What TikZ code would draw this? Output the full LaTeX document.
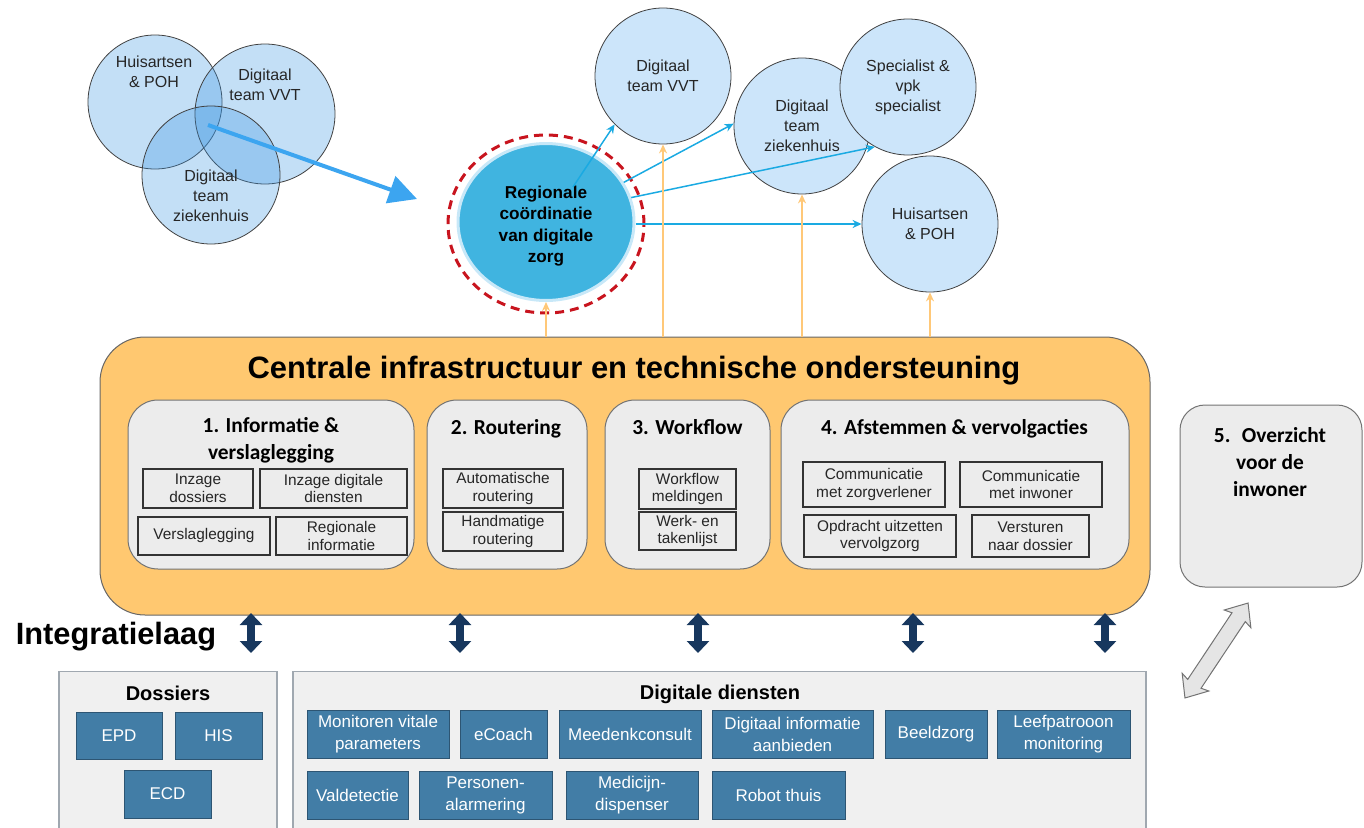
\documentclass[tikz,border=0pt]{standalone}
\usepackage{fontspec}
\setmainfont{Liberation Sans}
\newfontfamily\calibri{Carlito}
\usetikzlibrary{positioning,shapes,arrows.meta}
\newcommand{\fsz}[2]{\fontsize{#1}{#2}\selectfont}
\definecolor{venncol}{RGB}{57,148,225}
\definecolor{teamcol}{RGB}{204,229,250}
\definecolor{regblue}{RGB}{64,180,224}
\definecolor{halo}{RGB}{200,232,248}
\definecolor{regred}{RGB}{200,20,30}
\definecolor{cyanline}{RGB}{26,170,226}
\definecolor{bigblue}{RGB}{60,165,240}
\definecolor{orline}{RGB}{255,200,120}
\definecolor{orfill}{RGB}{255,200,112}
\definecolor{secfill}{RGB}{236,236,236}
\definecolor{basefill}{RGB}{240,240,240}
\definecolor{baseline}{RGB}{160,168,176}
\definecolor{svcfill}{RGB}{66,125,166}
\definecolor{svcline}{RGB}{45,85,115}
\definecolor{navy}{RGB}{23,55,94}

\begin{document}
\begin{tikzpicture}[x=1pt,y=-1pt,line width=1pt,
  venn/.style={circle,draw=black!75,line width=0.8pt,fill=venncol,fill opacity=0.3,minimum size=#1,inner sep=0pt},
  vtext/.style={align=center,text=black!85,font=\fsz{16}{20}},
  team/.style={circle,draw=black!75,line width=0.8pt,fill=teamcol,minimum size=136pt,inner sep=0pt,align=center,text=black!85,font=\fsz{16}{20}},
  cyanarr/.style={draw=cyanline,line width=1.5pt,-{Stealth[length=9pt,width=8pt]}},
  orarr/.style={draw=orline,line width=1.5pt,-{Stealth[length=9pt,width=8pt]}},
  sec/.style={draw=black!55,fill=secfill,rounded corners=30pt,minimum height=169pt,inner sep=0pt},
  sectitle/.style={align=center,font=\calibri\bfseries\fsz{21.4}{27}},
  item/.style={draw=black!80,line width=1.5pt,inner sep=0pt,align=center,text=black!85,font=\fsz{15.4}{17.7}},
  basebox/.style={draw=baseline,line width=1.2pt,fill=basefill,minimum height=169pt,inner sep=0pt},
  svc/.style={draw=svcline,fill=svcfill,line width=1pt,text=white,inner sep=0pt,align=center,minimum height=48pt,font=\fsz{17}{22}},
  navyarr/.style={draw=navy,line width=8pt,{Triangle[width=22pt,length=12pt]}-{Triangle[width=22pt,length=12pt]}}]

\useasboundingbox (0,0) rectangle (1364,827);

% de drie overlappende teams
\node[venn=134pt] (vhuis) at (155,102) {};
\node[venn=140pt] (vvvt) at (265,114) {};
\node[venn=138pt] (vzkh) at (211,175) {};
\node[vtext] (vhuistxt) at (154,72) {Huisartsen\\ \& POH};
\node[vtext] (vvvttxt) at (265,85) {Digitaal\\ team VVT};
\node[vtext] (vzkhtxt) at (211,196) {Digitaal\\ team\\ ziekenhuis};
\coordinate (vmid) at (208,125);
\coordinate (vend) at (417,199);
\draw[draw=bigblue,line width=4pt,-{Triangle[length=28pt,width=28pt]}] (vmid) -- (vend);

% teams rechts boven
\node[team] (tvvt) at (663,76) {Digitaal\\ team VVT};
\node[team] (tzkh) at (802,126) {Digitaal\\ team\\ ziekenhuis};
\node[team] (tspec) at (908,87) {Specialist \&\\ vpk\\ specialist};
\node[team] (thap) at (930,224) {Huisartsen\\ \& POH};

% regionale coordinatie
\node[ellipse,draw=regred,line width=3pt,dash pattern=on 9pt off 6pt,minimum width=196pt,minimum height=178pt] (regring) at (546,224) {};
\node[ellipse,fill=regblue,draw=halo,line width=3pt,minimum width=176pt,minimum height=157pt] (reg) at (546,222) {};
\node[align=center,font=\bfseries\fsz{17.2}{21.5}] (regtxt) at (546,226) {Regionale\\ coördinatie\\ van digitale\\ zorg};

\coordinate (regin) at (573,187);
\draw[cyanarr] (regin) -- (tvvt.225);
\draw[cyanarr] (reg.27) -- (tzkh.178);
\draw[cyanarr] (reg.16) -- (tspec.241);
\draw[cyanarr] (reg.east |- thap.west) -- (thap.west);

% centrale infrastructuur
\node[draw=black!60,fill=orfill,rounded corners=45pt,minimum width=1050pt,minimum height=278pt] (infra) at (625,476) {};
\node[font=\bfseries\fsz{30.9}{36}] (infratitle) at (634,371) {Centrale infrastructuur en technische ondersteuning};

\draw[orarr] (infra.north -| reg.south) -- (reg.south);
\draw[orarr] (infra.north -| tvvt.south) -- (tvvt.south);
\draw[orarr] (infra.north -| tzkh.south) -- (tzkh.south);
\draw[orarr] (infra.north -| thap.south) -- (thap.south);

% 1. informatie
\node[sec,minimum width=286pt] (sec1) at (271,484.5) {};
\node[sectitle] (sec1title) at (271,440) {1. Informatie \&\\ verslaglegging};
\node[item,minimum width=110pt,minimum height=39pt] (insdos) at (198,488.5) {Inzage\\ dossiers};
\node[item,minimum width=147pt,minimum height=39pt] (insdig) at (333.5,488.5) {Inzage digitale\\ diensten};
\node[item,minimum width=132pt,minimum height=38pt] (versl) at (204,536) {Verslaglegging};
\node[item,minimum width=131pt,minimum height=38pt] (reginfo) at (341.5,536) {Regionale\\ informatie};

% 2. routering
\node[sec,minimum width=160pt] (sec2) at (507,484.5) {};
\node[sectitle,anchor=base] (sec2title) at (506,434) {2. Routering};
\node[item,minimum width=120pt,minimum height=39pt] (autorout) at (503,488.5) {Automatische\\ routering};
\node[item,minimum width=120pt,minimum height=39pt] (handrout) at (503,531.5) {Handmatige\\ routering};

% 3. workflow
\node[sec,minimum width=165pt] (sec3) at (687.5,484.5) {};
\node[sectitle,anchor=base] (sec3title) at (687.5,434) {3. Workflow};
\node[item,minimum width=97pt,minimum height=40pt] (wfmeld) at (687.5,489) {Workflow\\ meldingen};
\node[item,minimum width=97pt,minimum height=38pt] (werklijst) at (687.5,531) {Werk- en\\ takenlijst};

% 4. afstemmen
\node[sec,minimum width=348pt] (sec4) at (955,484.5) {};
\node[sectitle,anchor=base] (sec4title) at (954.5,434) {4. Afstemmen \& vervolgacties};
\node[item,minimum width=142pt,minimum height=45pt] (comzorg) at (874,484.5) {Communicatie\\ met zorgverlener};
\node[item,minimum width=142pt,minimum height=45pt] (cominw) at (1031,484.5) {Communicatie\\ met inwoner};
\node[item,minimum width=152pt,minimum height=42pt] (opdracht) at (880,536) {Opdracht uitzetten\\ vervolgzorg};
\node[item,minimum width=117pt,minimum height=42pt] (versturen) at (1030.5,536) {Versturen\\ naar dossier};

% 5. overzicht
\node[draw=black!55,fill=secfill,rounded corners=25pt,minimum width=182pt,minimum height=182pt] (sec5) at (1271,496) {};
\node[sectitle] (sec5title) at (1270,462) {5.~ Overzicht\\ voor de\\ inwoner};
\begin{scope}[shift={(1216.5,650.5)},rotate=56.4]
  \draw[draw=black!55,fill=black!10,line width=1pt]
    (-57,0) -- (-38,16) -- (-40,8) -- (40,8) -- (38,16) -- (57,0)
    -- (38,-16) -- (40,-8) -- (-40,-8) -- (-38,-16) -- cycle;
\end{scope}

% integratielaag
\node[anchor=west,font=\bfseries\fsz{30.8}{36}] (integr) at (12,637) {Integratielaag};
\foreach \x in {251,460,698,913,1105}
  \draw[navyarr] (\x,613) -- (\x,653);

% dossiers
\node[basebox,minimum width=218pt] (dosbox) at (168,756) {};
\node[font=\bfseries\fsz{20}{24}] (dostitle) at (168,693) {Dossiers};
\node[svc,minimum width=86pt,minimum height=47pt] (epd) at (119,735.5) {EPD};
\node[svc,minimum width=87pt,minimum height=47pt] (his) at (218.5,735.5) {HIS};
\node[svc,minimum width=87pt] (ecd) at (167.5,794) {ECD};

% digitale diensten
\node[basebox,minimum width=853pt] (digbox) at (719.5,756) {};
\node[font=\bfseries\fsz{20}{24}] (digtitle) at (720,694) {Digitale diensten};
\node[svc,minimum width=142pt] (monitor) at (378,734) {Monitoren vitale\\ parameters};
\node[svc,minimum width=87pt] (ecoach) at (503.5,734) {eCoach};
\node[svc,minimum width=142pt] (meedenk) at (630,734) {Meedenkconsult};
\node[svc,minimum width=161pt] (diginfo) at (792.5,734) {Digitaal informatie\\ aanbieden};
\node[svc,minimum width=102pt] (beeld) at (936,734) {Beeldzorg};
\node[svc,minimum width=133pt] (leef) at (1063.5,734) {Leefpatrooon\\ monitoring};
\node[svc,minimum width=101pt] (valdet) at (357.5,795) {Valdetectie};
\node[svc,minimum width=133pt] (personen) at (485.5,795) {Personen-\\ alarmering};
\node[svc,minimum width=132pt] (medicijn) at (632,795) {Medicijn-\\ dispenser};
\node[svc,minimum width=133pt] (robot) at (778.5,795) {Robot thuis};

\end{tikzpicture}
\end{document}
